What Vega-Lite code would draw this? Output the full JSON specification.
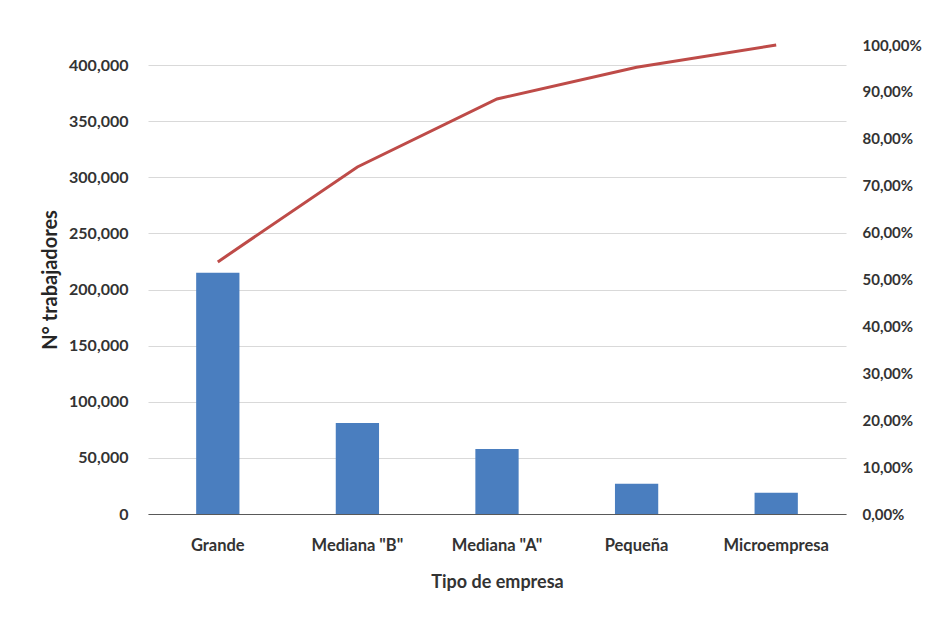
{
  "$schema": "https://vega.github.io/schema/vega-lite/v6.json",
  "autosize": {"type": "none"},
  "padding": {"left": 148, "top": 45, "right": 83, "bottom": 110},
  "width": 698,
  "height": 469,
  "background": "white",
  "config": {
    "locale": {
      "number": {"decimal": ",", "thousands": ",", "grouping": [3], "currency": ["", ""]}
    },
    "view": {"stroke": null},
    "font": "Lato",
    "axis": {
      "labelFont": "Lato",
      "labelFontWeight": "bold",
      "labelColor": "#333333",
      "titleFont": "Lato",
      "titleColor": "#262626",
      "ticks": false,
      "domain": false,
      "grid": false
    }
  },
  "data": {
    "values": [
      {"tipo": "Grande", "trabajadores": 215000, "acumulado": 0.5375},
      {"tipo": "Mediana \"B\"", "trabajadores": 81000, "acumulado": 0.74},
      {"tipo": "Mediana \"A\"", "trabajadores": 58000, "acumulado": 0.885},
      {"tipo": "Pequeña", "trabajadores": 27000, "acumulado": 0.9525},
      {"tipo": "Microempresa", "trabajadores": 19000, "acumulado": 1.0}
    ]
  },
  "encoding": {
    "x": {
      "field": "tipo",
      "type": "nominal",
      "sort": null,
      "scale": {"paddingInner": 0.69, "paddingOuter": 0.345},
      "axis": {
        "title": "Tipo de empresa",
        "titleFontSize": 18,
        "titleFontWeight": "bold",
        "titleColor": "#333333",
        "titlePadding": 20,
        "labelAngle": 0,
        "labelFontSize": 16.5,
        "labelPadding": 23,
        "domain": true,
        "domainColor": "#595959",
        "domainWidth": 1.2
      }
    }
  },
  "layer": [
    {
      "mark": {"type": "bar", "color": "#4A7EBF"},
      "encoding": {
        "y": {
          "field": "trabajadores",
          "type": "quantitative",
          "scale": {"domain": [0, 418000], "nice": false},
          "axis": {
            "title": "N° trabajadores",
            "titleFontSize": 20,
            "titleFontWeight": "bold",
            "titlePadding": 8,
            "values": [0, 50000, 100000, 150000, 200000, 250000, 300000, 350000, 400000],
            "format": ",d",
            "labelFontSize": 16,
            "labelPadding": 20,
            "grid": true,
            "gridColor": "#D9D9D9",
            "gridWidth": 1
          }
        }
      }
    },
    {
      "mark": {"type": "line", "color": "#BE4B48", "strokeWidth": 3},
      "encoding": {
        "y": {
          "field": "acumulado",
          "type": "quantitative",
          "scale": {"domain": [0, 1], "nice": false},
          "axis": {
            "orient": "right",
            "title": null,
            "values": [0, 0.1, 0.2, 0.3, 0.4, 0.5, 0.6, 0.7, 0.8, 0.9, 1],
            "format": ".2%",
            "labelFontSize": 15,
            "labelPadding": 16,
            "grid": false
          }
        }
      }
    }
  ],
  "resolve": {"scale": {"y": "independent"}}
}
